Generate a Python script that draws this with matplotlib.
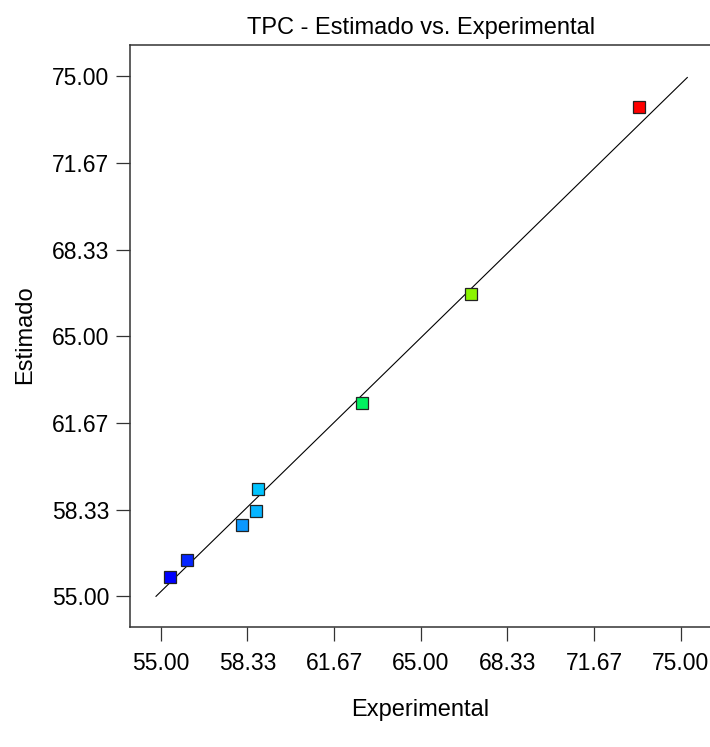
"""
TPC - estimated vs experimental values (parity plot)
"""

import numpy as np
from matplotlib import pyplot as plt

plt.rcParams["font.family"] = ["Liberation Sans", "DejaVu Sans"]
plt.rcParams.update({'font.size': 17})

# experimental (x) and estimated (y) TPC values
experimental = [55.35, 56.01, 58.13, 58.66, 58.73, 62.75, 66.95, 73.38]
estimado = [55.73, 56.40, 57.76, 58.28, 59.13, 62.43, 66.63, 73.83]
point_colors = ['#0000ff', '#0526ff', '#0b98ff', '#06b4ff', '#00c4ff',
                '#00f060', '#8cf500', '#ff0000']

# reference line endpoints
line_x = [54.82, 75.25]
line_y = [55.0, 74.95]

tick_vals = [55.00, 58.33, 61.67, 65.00, 68.33, 71.67, 75.00]
tick_labels = ["55.00", "58.33", "61.67", "65.00", "68.33", "71.67", "75.00"]


def main():
    fig = plt.figure(figsize=(7.1, 7.47), dpi=100)
    ax = fig.add_axes([130 / 710, 120 / 747, 582 / 710, 582 / 747])

    ax.plot(line_x, line_y, color='k', linewidth=0.8, zorder=2)
    for xv, yv, c in zip(experimental, estimado, point_colors):
        ax.plot(xv, yv, marker='s', markersize=8, markerfacecolor=c,
                markeredgecolor='#222222', markeredgewidth=0.9,
                linestyle='none', zorder=3)

    ax.set_xlim(53.82, 76.2)
    ax.set_ylim(53.82, 76.2)
    ax.set_xticks(tick_vals)
    ax.set_xticklabels(tick_labels)
    ax.set_yticks(tick_vals)
    ax.set_yticklabels(tick_labels)
    ax.tick_params(direction='out', length=10, width=0.9, color='#333333',
                   labelsize=16.5, pad=8)
    ax.tick_params(axis='y', pad=5)
    for side in ['left', 'bottom', 'top', 'right']:
        ax.spines[side].set_linewidth(1.1)
        ax.spines[side].set_color('#333333')

    ax.set_title("TPC - Estimado vs. Experimental", fontsize=17, pad=8)
    ax.set_xlabel("Experimental", fontsize=17)
    ax.set_ylabel("Estimado", fontsize=17)
    ax.xaxis.set_label_coords(0.499, -0.143)
    ax.yaxis.set_label_coords(-0.181, 0.502)
    ax.xaxis.label.set_va('center')
    ax.yaxis.label.set_va('center')

    fig.savefig("out.png", dpi=100)


if __name__ == "__main__":
    main()
